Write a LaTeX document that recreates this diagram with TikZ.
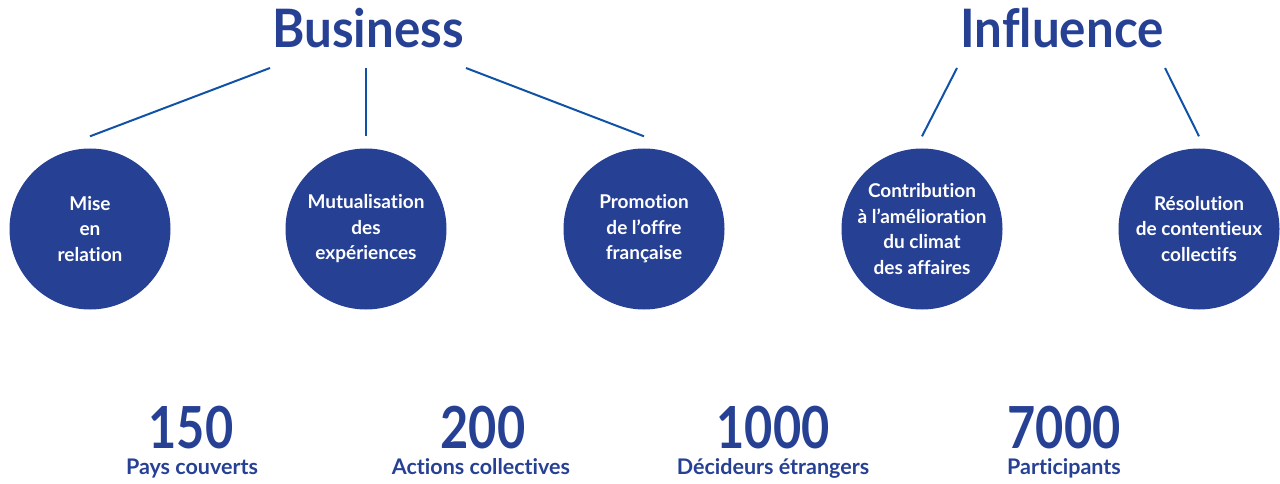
\documentclass[tikz,border=0pt]{standalone}
\usepackage{fontspec}
\setmainfont[Ligatures=NoCommon]{Lato}
\newfontfamily\titoli[FakeStretch=0.93, Ligatures=NoCommon]{Lato}
\newfontfamily\cifre[FakeStretch=0.84]{Lato}
\usepackage{tikz}
\usetikzlibrary{calc}
\definecolor{bluScuro}{RGB}{38,64,148}
\definecolor{bluLinea}{RGB}{16,82,166}

\begin{document}
\begin{tikzpicture}[x = 1pt, y = -1pt,
    cerchio/.style = {circle, fill = bluScuro, minimum size = 161pt, inner sep = 0pt, text = white, align = center, font = \fontsize{19}{25.5}\selectfont\bfseries},
    titolo/.style = {anchor = base, text = bluScuro, font = \titoli\fontsize{53}{53}\selectfont\bfseries},
    ramo/.style = {bluLinea, line width = 2pt},
    numero/.style = {anchor = base, inner sep = 0pt, text = bluScuro, font = \cifre\fontsize{58}{58}\selectfont\bfseries},
    didascalia/.style = {anchor = base, inner sep = 0pt, text = bluScuro, font = \fontsize{21.5}{21.5}\selectfont\bfseries}]
    % parametri
    \pgfmathsetmacro{\stacco}{12}
    \useasboundingbox (0,0) rectangle (1280,484);
    % titoli
    \node[titolo] (business) at (368,48){Business};
    \node[titolo] (influence) at (1062,48){Influence};
    % cerchi
    \node[cerchio] (mise) at (90,229){Mise\\en\\relation};
    \node[cerchio] (mutual) at (366,229){Mutualisation\\des\\expériences};
    \node[cerchio] (promo) at (644,229){Promotion\\de l’offre\\française};
    \node[cerchio] (contrib) at (922,229){Contribution\\à l’amélioration\\du climat\\des affaires};
    \node[cerchio] (resol) at (1199,229){Résolution\\de contentieux\\collectifs};
    % attacchi sotto i titoli
    \coordinate (bsx) at (270,68);
    \coordinate (bc) at (366,68);
    \coordinate (bdx) at (466,68);
    \coordinate (isx) at (957,68);
    \coordinate (idx) at (1165,68);
    % rami
    \draw[ramo] (bsx) -- ($(mise.north)+(0,-\stacco)$);
    \draw[ramo] (bc) -- ($(mutual.north)+(0,-\stacco)$);
    \draw[ramo] (bdx) -- ($(promo.north)+(0,-\stacco)$);
    \draw[ramo] (isx) -- ($(contrib.north)+(0,-\stacco)$);
    \draw[ramo] (idx) -- ($(resol.north)+(0,-\stacco)$);
    % cifre
    \node[numero] (paesi) at (191,448){150};
    \node[numero] (azioni) at (483,448){200};
    \node[numero] (decisori) at (773,448){1000};
    \node[numero] (partecip) at (1064,448){7000};
    \node[didascalia] (paesiTxt) at (192,474){Pays couverts};
    \node[didascalia] (azioniTxt) at (481,474){Actions collectives};
    \node[didascalia] (decisoriTxt) at (773,474){Décideurs étrangers};
    \node[didascalia] (partecipTxt) at (1064,474){Participants};
\end{tikzpicture}
\end{document}
